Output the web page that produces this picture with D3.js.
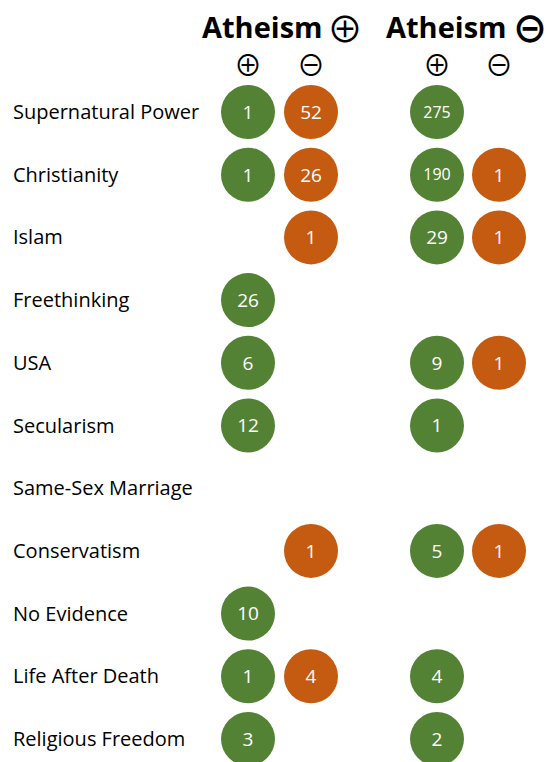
<!DOCTYPE html>
<html>
<head>
<meta charset="utf-8">
<script src="https://cdn.jsdelivr.net/npm/d3@7"></script>
<style>
  body { margin: 0; background: #fff; }
  svg { display: block; font-family: "Open Sans", "Noto Sans", sans-serif; }
</style>
</head>
<body>
<div id="chart"></div>
<script>
// Stance bubbles: counts per topic, split by Atheism ⊕ / Atheism ⊖ and ⊕ / ⊖ sub-stance

const topics = ["Supernatural Power", "Christianity", "Islam", "Freethinking", "USA",
  "Secularism", "Same-Sex Marriage", "Conservatism", "No Evidence", "Life After Death",
  "Religious Freedom"];

const groups = ["Atheism", "Atheism"];
const groupSigns = ["\u2295", "\u2296"];
const columns = ["pos-pos", "pos-neg", "neg-pos", "neg-neg"];
const columnSigns = ["\u2295", "\u2296", "\u2295", "\u2296"];

// null = no bubble
const posPos = [1, 1, null, 26, 6, 12, null, null, 10, 1, 3];
const posNeg = [52, 26, 1, null, null, null, null, 1, null, 4, null];
const negPos = [275, 190, 29, null, 9, 1, null, 5, null, 4, 2];
const negNeg = [null, 1, 1, null, 1, null, null, 1, null, null, null];

const W = 548, H = 762;
const green = "#548235", orange = "#C55A11";
const signFont = '"Noto Sans CJK JP", "DejaVu Sans", sans-serif';

const svg = d3.select("#chart").append("svg").attr("width", W).attr("height", H);

const y = d3.scalePoint().domain(topics).range([112, 739]);
const x = d3.scaleOrdinal().domain(columns).range([248, 311, 437, 499]);
const fill = d3.scaleOrdinal().domain(columns).range([green, orange, green, orange]);

const cells = [];
columns.forEach((c, ci) => {
  const vals = [posPos, posNeg, negPos, negNeg][ci];
  topics.forEach((t, ti) => { if (vals[ti] != null) cells.push({ c, t, v: vals[ti] }); });
});

// Row labels
svg.append("g").selectAll("text").data(topics).join("text")
  .attr("x", 13).attr("y", d => y(d)).attr("dy", "0.35em")
  .attr("font-size", 20).attr("fill", "#000")
  .text(d => d);

// Group headers: word + sign glyph (CJK glyph centre sits ~0.47em above baseline)
const hx = [202, 386];
const signX = [345, 530];
const gh = svg.append("g");
const signFs = 36;
groups.forEach((g, i) => {
  gh.append("text").attr("x", hx[i]).attr("y", 38)
    .attr("font-size", 29).attr("font-weight", "bold").attr("fill", "#000")
    .text(g);
  gh.append("text").attr("x", signX[i]).attr("y", 26 + signFs * 0.47)
    .attr("text-anchor", "middle").attr("font-family", signFont)
    .attr("font-size", signFs).attr("font-weight", i === 1 ? "bold" : "normal")
    .attr("fill", "#000")
    .text(groupSigns[i]);
});

// Column sub-headers
const subFs = 28;
svg.append("g").selectAll("text").data(columns).join("text")
  .attr("x", d => x(d)).attr("y", 63 + subFs * 0.47)
  .attr("text-anchor", "middle").attr("font-family", signFont)
  .attr("font-size", subFs).attr("fill", "#000")
  .text((d, i) => columnSigns[i]);

// Bubbles
const g = svg.append("g");
g.selectAll("circle").data(cells).join("circle")
  .attr("cx", d => x(d.c)).attr("cy", d => y(d.t)).attr("r", 27)
  .attr("fill", d => fill(d.c));
g.selectAll("text").data(cells).join("text")
  .attr("x", d => x(d.c)).attr("y", d => y(d.t)).attr("dy", "0.36em")
  .attr("text-anchor", "middle").attr("fill", "#fff")
  .attr("font-size", d => d.v >= 100 ? 16 : 19)
  .text(d => d.v);
</script>
</body>
</html>
